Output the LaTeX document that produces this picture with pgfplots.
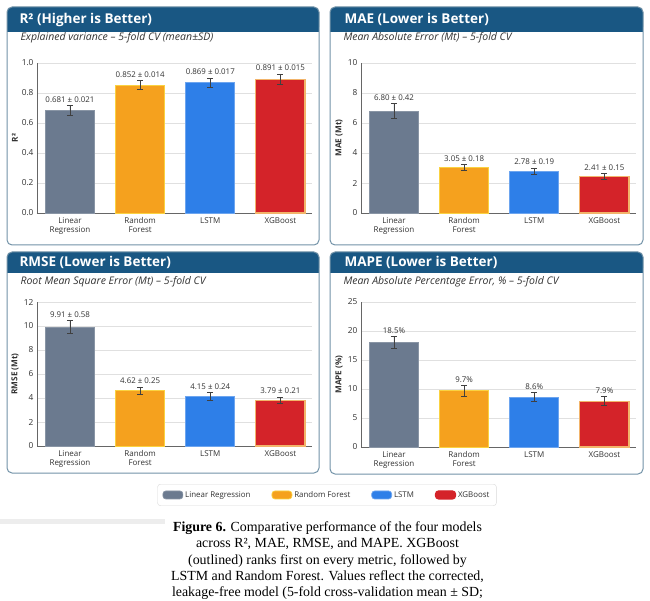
\documentclass[border=0pt]{standalone}
\usepackage{pgfplots}
\pgfplotsset{compat=1.18}
\usepackage{pgfplotstable}
\usepackage{fontspec}
\setmainfont{Open Sans}
\newfontfamily\capfont{Liberation Serif}

\definecolor{lrc}{HTML}{6B7A8F}
\definecolor{rfc}{HTML}{F5A11E}
\definecolor{lsc}{HTML}{2E7FE8}
\definecolor{xgc}{HTML}{D42329}
\definecolor{xgo}{HTML}{F2B46A}
\definecolor{hdr}{HTML}{195783}
\definecolor{bord}{HTML}{7393A8}
\definecolor{txt}{HTML}{333333}
\newcommand\fs[1]{\fontsize{#1}{#1}\selectfont}
\newcommand\yl[1]{{\bfseries\fs{8.2}\color{black!80}#1}}

% value, drawn error half-length, label
\pgfplotstableread[col sep=comma]{
x,y,e,lab
0,0.681,0.033,0.681 ± 0.021
1,0.852,0.030,0.852 ± 0.014
2,0.869,0.030,0.869 ± 0.017
3,0.891,0.036,0.891 ± 0.015
}\tR
\pgfplotstableread[col sep=comma]{
x,y,e,lab
0,6.78,0.50,6.80 ± 0.42
1,3.03,0.21,3.05 ± 0.18
2,2.78,0.20,2.78 ± 0.19
3,2.41,0.20,2.41 ± 0.15
}\tMAE
\pgfplotstableread[col sep=comma]{
x,y,e,lab
0,9.91,0.55,9.91 ± 0.58
1,4.62,0.30,4.62 ± 0.25
2,4.15,0.32,4.15 ± 0.24
3,3.79,0.27,3.79 ± 0.21
}\tRMSE
\pgfplotstableread[col sep=comma]{
x,y,e,lab
0,18.0,1.05,18.5
1,9.7,0.90,9.7
2,8.6,0.75,8.6
3,7.9,0.75,7.9
}\tMAPE

\pgfplotsset{
  panel/.style={
    scale only axis, width=275pt, anchor=south west,
    xmin=-0.47, xmax=3.45, ymin=0,
    axis x line*=bottom, axis y line*=left,
    xtick={0,1,2,3},
    xticklabels={{Linear\\Regression},{Random\\Forest},LSTM,XGBoost},
    xticklabel style={align=center, font=\fontsize{8}{8.8}\selectfont, text=txt, yshift=-1pt},
    yticklabel style={font=\fs{8.3}, text=txt},
    major tick length=0pt,
    ymajorgrids, grid style={draw=black!12, line width=0.6pt},
    axis line style={draw=black!60, line width=0.9pt},
    /pgf/number format/assume math mode=true,
    ylabel style={at={(axis description cs:-0.08,0.5)}, anchor=center},
    clip=false,
  },
  sw/.style={legend image code/.code={\fill[##1] (0pt,-4pt) rectangle (20pt,4pt);}},
  eb/.style={error bars/.cd, y dir=both, y explicit,
    error bar style={line width=0.8pt, draw=black!75},
    error mark options={rotate=90, mark size=3pt, line width=0.8pt, black!75}},
  bLR/.style={ybar, bar width=0.7, bar shift=0pt, fill=lrc, draw=lrc!80!white, line width=0.7pt, sw},
  bRF/.style={ybar, bar width=0.7, bar shift=0pt, fill=rfc, draw=rfc!60!yellow!80!white, line width=0.7pt, sw},
  bLS/.style={ybar, bar width=0.7, bar shift=0pt, fill=lsc, draw=lsc!70!white, line width=0.7pt, sw},
  bXG/.style={ybar, bar width=0.7, bar shift=0pt, fill=xgc, draw=xgo, line width=1.1pt,
    legend image code/.code={\fill[xgc] (0pt,-4pt) rectangle (20pt,4pt);}},
  labs/.style={draw=none, mark=none, forget plot, nodes near coords,
    point meta=explicit symbolic,
    nodes near coords style={anchor=south, font=\fs{7.9}, text=txt, inner sep=1pt, yshift=2pt}},
}

\begin{document}
\begin{tikzpicture}
\begin{scope}[x=1pt,y=1pt]
\fill[white] (0,0) rectangle (650,600);
\useasboundingbox (0,0) rectangle (650,600);
% panels
\foreach \xa/\xb/\ya/\yb/\yh in {7/319/355/593/568, 330/643/355/593/568, 7/319/127/348/327, 330/643/126/348/327}{
  \fill[white, rounded corners=5pt] (\xa,\ya) rectangle (\xb,\yb);
  \fill[hdr, rounded corners=5pt] (\xa,\yh) rectangle (\xb,\yb);
  \fill[hdr] (\xa,\yh) rectangle (\xb,\yh+8);
}
\node[anchor=west, text=white, font=\bfseries\fs{13.5}] at (16,580.5) {R² (Higher is Better)};
\node[anchor=west, text=white, font=\bfseries\fs{13.5}] at (341,580.5) {MAE (Lower is Better)};
\node[anchor=west, text=white, font=\bfseries\fs{13.5}] at (16,337.5) {RMSE (Lower is Better)};
\node[anchor=west, text=white, font=\bfseries\fs{13.5}] at (341,337.5) {MAPE (Lower is Better)};
\node[anchor=west, text=black!80, font=\itshape\fs{10.5}] at (17,562) {Explained variance – 5-fold CV (mean±SD)};
\node[anchor=west, text=black!80, font=\itshape\fs{10.5}] at (340,562) {Mean Absolute Error (Mt) – 5-fold CV};
\node[anchor=west, text=black!80, font=\itshape\fs{10.5}] at (17,318) {Root Mean Square Error (Mt) – 5-fold CV};
\node[anchor=west, text=black!80, font=\itshape\fs{10.5}] at (340,318) {Mean Absolute Percentage Error, \% – 5-fold CV};
% gray strip
\fill[black!7] (0,76) rectangle (165,81);
% caption
\node[anchor=base, font=\capfont\fs{13.9}] at (327.5,68.5) {\textbf{Figure 6.} Comparative performance of the four models};
\node[anchor=base, font=\capfont\fs{13.9}] at (327.5,52.2) {across R², MAE, RMSE, and MAPE. XGBoost};
\node[anchor=base, font=\capfont\fs{13.9}] at (327.5,35.9) {(outlined) ranks first on every metric, followed by};
\node[anchor=base, font=\capfont\fs{13.9}] at (327.5,19.6) {LSTM and Random Forest. Values reflect the corrected,};
\node[anchor=base, font=\capfont\fs{13.9}] at (327.5,3.3) {leakage-free model (5-fold cross-validation mean ± SD;};
\end{scope}

% R2
\begin{axis}[panel, at={(37pt,387pt)}, height=150pt, ymax=1, ytick={0,0.2,0.4,0.6,0.8,1.0},
  yticklabel style={/pgf/number format/.cd, fixed, fixed zerofill, precision=1}, ylabel={\yl{R²}}]
\addplot[bLR, eb] coordinates {(0,0.681) +- (0,0.033)};
\addplot[bRF, eb] coordinates {(1,0.852) +- (0,0.030)};
\addplot[bLS, eb] coordinates {(2,0.869) +- (0,0.030)};
\addplot[bXG, eb] coordinates {(3,0.891) +- (0,0.036)};
\addplot[labs] table[x=x, y expr=\thisrow{y}+\thisrow{e}, meta=lab] {\tR};
\end{axis}

% MAE
\begin{axis}[panel, at={(361pt,387pt)}, height=150pt, ymax=10, ytick={0,2,4,6,8,10}, ylabel={\yl{MAE (Mt)}}]
\addplot[bLR, eb] coordinates {(0,6.78) +- (0,0.50)};
\addplot[bRF, eb] coordinates {(1,3.03) +- (0,0.21)};
\addplot[bLS, eb] coordinates {(2,2.78) +- (0,0.20)};
\addplot[bXG, eb] coordinates {(3,2.41) +- (0,0.20)};
\addplot[labs] table[x=x, y expr=\thisrow{y}+\thisrow{e}, meta=lab] {\tMAE};
\end{axis}

% RMSE
\begin{axis}[panel, at={(37pt,154pt)}, height=144pt, ymax=12, ytick={0,2,4,6,8,10,12}, ylabel={\yl{RMSE (Mt)}},
  legend columns=4,
  legend style={at={(axis description cs:1.0545,-0.34)}, anchor=center, draw=black!15, rounded corners=3pt,
    fill=white, font=\fs{7.9}, text=txt, inner xsep=5pt, inner ysep=5pt,
    /tikz/every even column/.append style={column sep=19pt}}]
\addplot[bLR, eb] coordinates {(0,9.91) +- (0,0.55)};
\addlegendentry{Linear Regression}
\addplot[bRF, eb] coordinates {(1,4.62) +- (0,0.30)};
\addlegendentry{Random Forest}
\addplot[bLS, eb] coordinates {(2,4.15) +- (0,0.32)};
\addlegendentry{LSTM}
\addplot[bXG, eb] coordinates {(3,3.79) +- (0,0.27)};
\addlegendentry{XGBoost}
\addplot[labs] table[x=x, y expr=\thisrow{y}+\thisrow{e}, meta=lab] {\tRMSE};
\end{axis}

% MAPE
\begin{axis}[panel, at={(361pt,153pt)}, height=145pt, ymax=25, ytick={0,5,10,15,20,25}, ylabel={\yl{MAPE (\%)}}]
\addplot[bLR, eb] coordinates {(0,18.0) +- (0,1.05)};
\addplot[bRF, eb] coordinates {(1,9.7) +- (0,0.90)};
\addplot[bLS, eb] coordinates {(2,8.6) +- (0,0.75)};
\addplot[bXG, eb] coordinates {(3,7.9) +- (0,0.75)};
\addplot[labs, nodes near coords={\pgfplotspointmeta\%}] table[x=x, y expr=\thisrow{y}+\thisrow{e}, meta=lab] {\tMAPE};
\end{axis}

\begin{scope}[x=1pt,y=1pt]
\foreach \xa/\xb/\ya/\yb in {7/319/355/593, 330/643/355/593, 7/319/127/348, 330/643/126/348}{
  \draw[bord, line width=1pt, rounded corners=5pt] (\xa,\ya) rectangle (\xb,\yb);
}
\end{scope}
\end{tikzpicture}
\end{document}
